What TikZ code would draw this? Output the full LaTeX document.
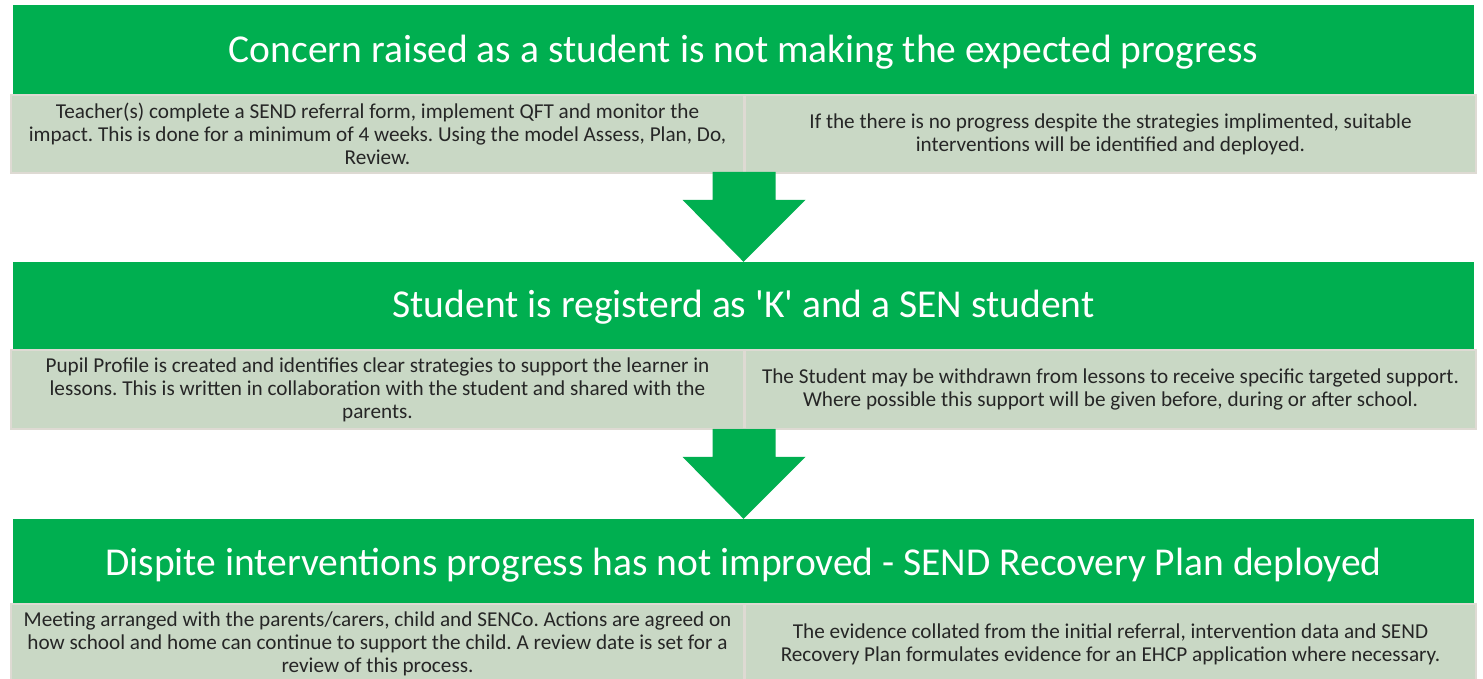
\documentclass[tikz,border=0pt]{standalone}
\usepackage{fontspec}
\setmainfont{Carlito}
\usetikzlibrary{calc}
\frenchspacing
\definecolor{bandgreen}{HTML}{00AF50}
\definecolor{boxgrey}{HTML}{C9D8C5}
\definecolor{boxedge}{HTML}{DEDAD3}
\definecolor{bodytext}{HTML}{262626}
\newcommand\blockarrowto[1]{%
  \fill[bandgreen] ($(#1)+(-31,-90)$) -- ($(#1)+(32,-90)$) -- ($(#1)+(32,-62)$)
    -- ($(#1)+(62,-62)$) -- (#1) -- ($(#1)+(-61,-62)$) -- ($(#1)+(-31,-62)$) -- cycle;}
\begin{document}
\begin{tikzpicture}[x=1pt,y=-1pt,
  band/.style={fill=bandgreen, draw=none, inner sep=0pt, text=white,
    minimum width=1461pt, text depth=8pt, font=\fontsize{39.5}{46}\selectfont},
  infobox/.style={fill=boxgrey, draw=boxedge, line width=2pt, inner sep=0pt,
    text=bodytext, align=center, font=\fontsize{21.2}{23}\selectfont}]
\useasboundingbox (0,0) rectangle (1483,678);
\fill[white] (0,0) rectangle (1483,678);

% row 1
\node[band, minimum height=90pt, text height=32pt] (h1) at (743.5,50) {Concern raised as a student is not making the expected progress};
\node[infobox, minimum width=733pt, minimum height=78pt] (l1) at (377.5,134)
  {Teacher(s) complete a SEND referral form, implement QFT and monitor the\\
   impact. This is done for a minimum of 4 weeks. Using the model Assess, Plan, Do,\\
   Review.};
\node[infobox, minimum width=731pt, minimum height=78pt] (r1) at (1110.5,134)
  {If the there is no progress despite the strategies implimented, suitable\\
   interventions will be identified and deployed.};

% row 2
\node[band, minimum height=88pt, text height=30pt] (h2) at (743.5,306) {Student is registerd as \textquotesingle K\textquotesingle{} and a SEN student};
\blockarrowto{h2.north}
\node[infobox, minimum width=733pt, minimum height=79pt] (l2) at (377.5,389.5)
  {Pupil Profile is created and identifies clear strategies to support the learner in\\
   lessons. This is written in collaboration with the student and shared with the\\
   parents.};
\node[infobox, minimum width=731pt, minimum height=79pt] (r2) at (1110.5,389.5)
  {The Student may be withdrawn from lessons to receive specific targeted support.\\
   Where possible this support will be given before, during or after school.};

% row 3
\node[band, minimum height=84pt, text height=36pt] (h3) at (743.5,561) {Dispite interventions progress has not improved - SEND Recovery Plan deployed};
\blockarrowto{h3.north}
\node[infobox, minimum width=733pt, minimum height=80pt] (l3) at (377.5,644)
  {Meeting arranged with the parents/carers, child and SENCo. Actions are agreed on\\
   how school and home can continue to support the child. A review date is set for a\\
   review of this process.};
\node[infobox, minimum width=731pt, minimum height=80pt] (r3) at (1110.5,644)
  {The evidence collated from the initial referral, intervention data and SEND\\
   Recovery Plan formulates evidence for an EHCP application where necessary.};
\end{tikzpicture}
\end{document}
